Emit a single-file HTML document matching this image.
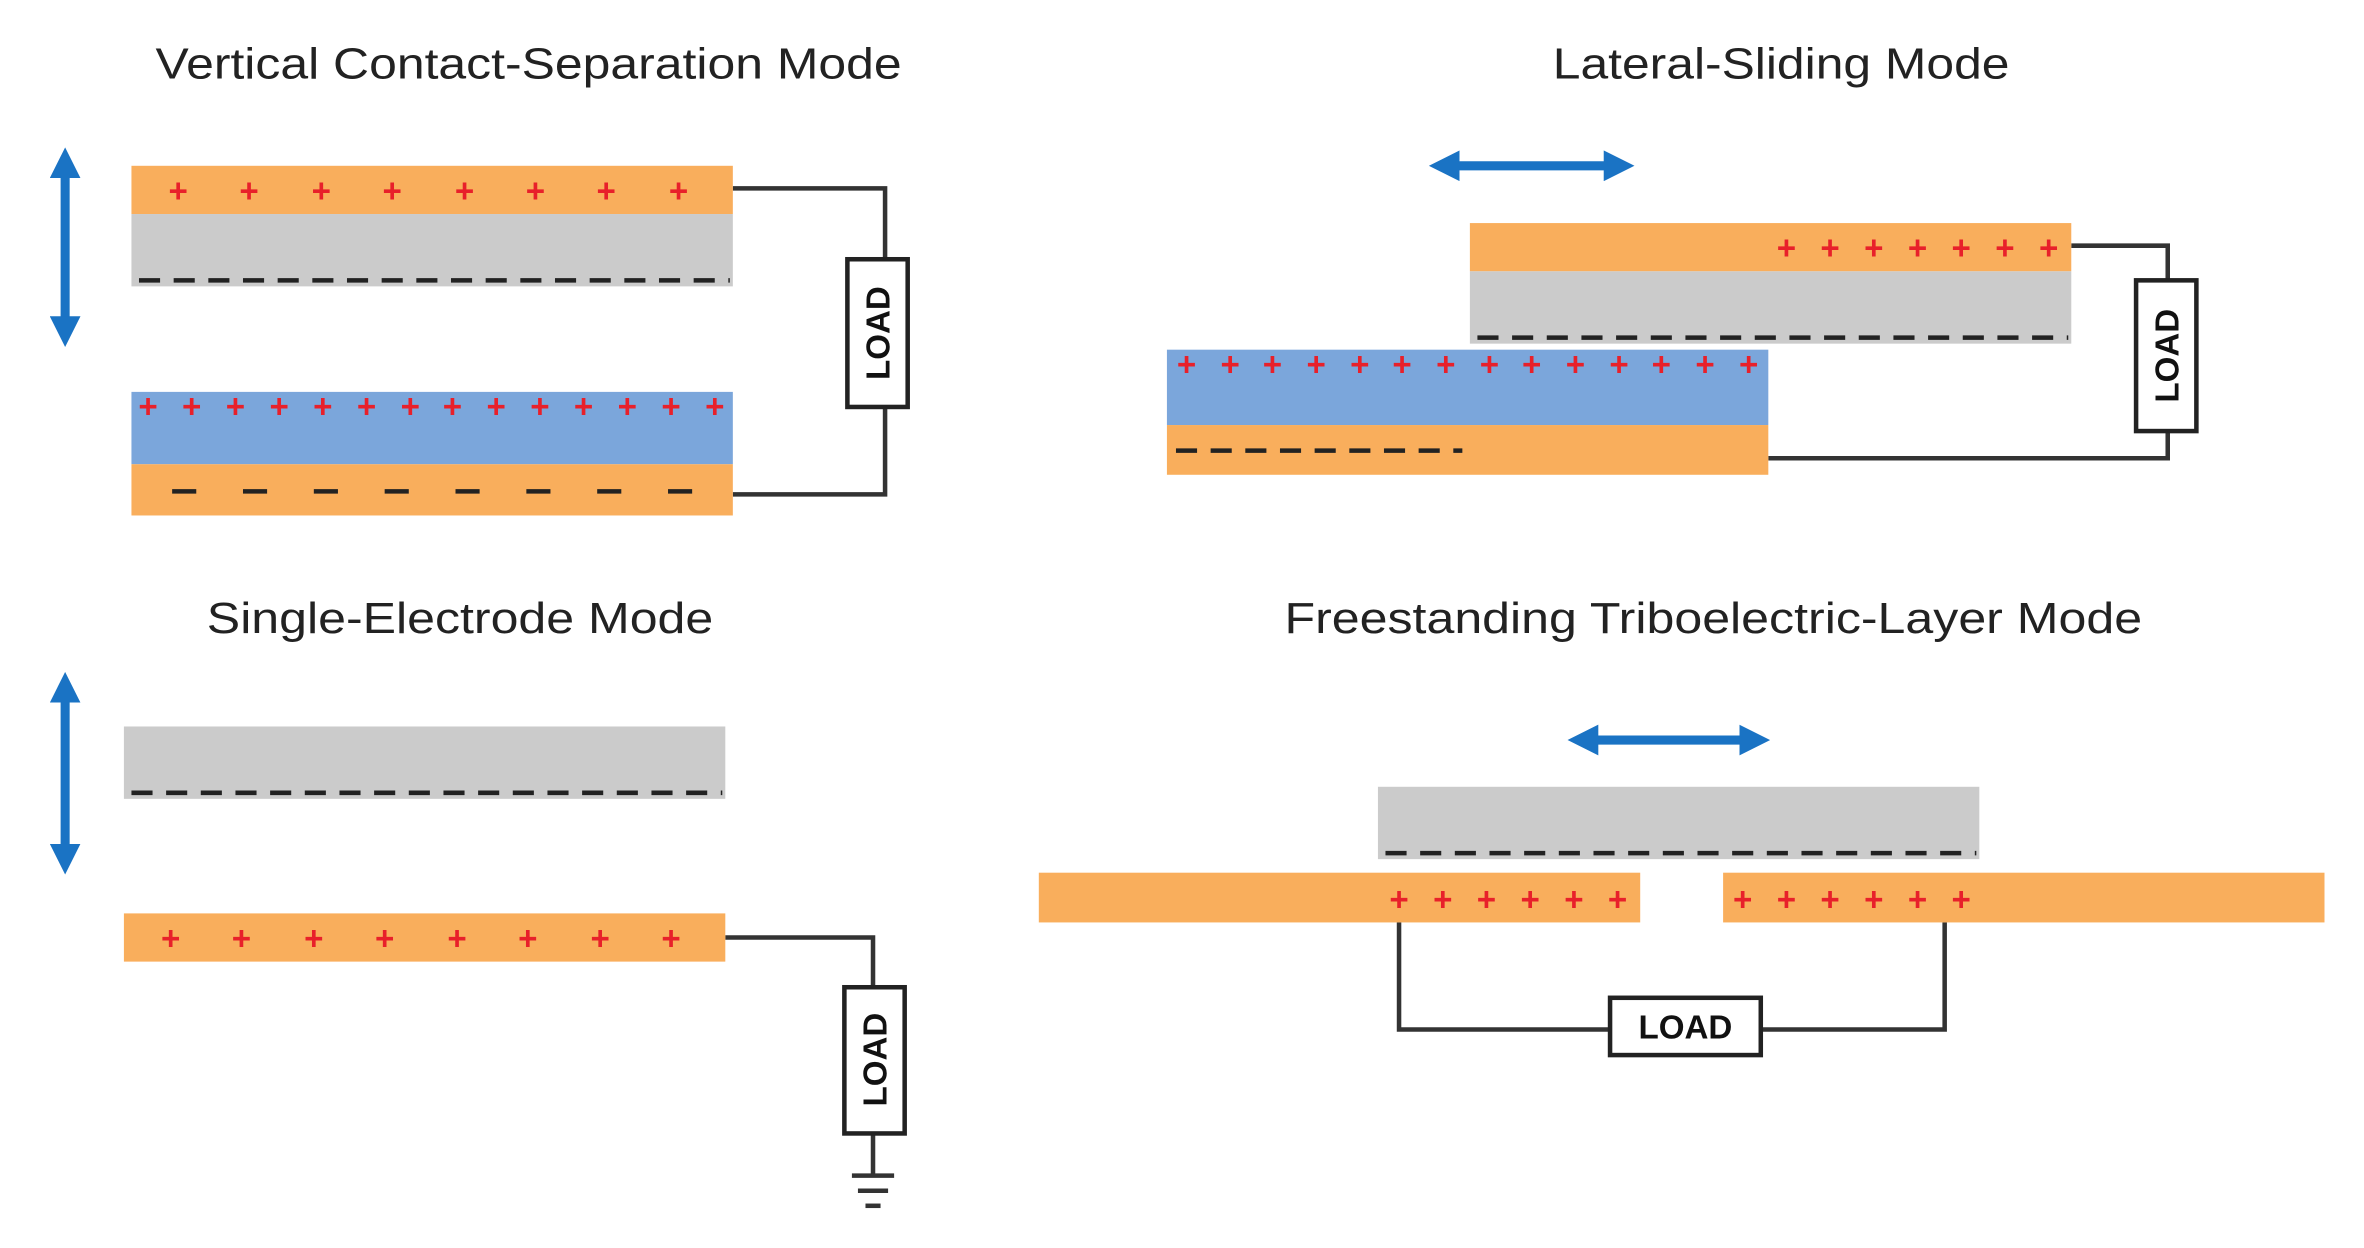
<!DOCTYPE html>
<html><head><meta charset="utf-8"><style>
html,body{margin:0;padding:0;background:#fff;}
svg{display:block;}
text{font-family:"Liberation Sans",sans-serif;}
</style></head><body>
<svg width="2364" height="1248" viewBox="0 0 1568 828" xmlns="http://www.w3.org/2000/svg">
<defs>
<marker id="ah" viewBox="0 0 10 10" refX="5" refY="5" markerWidth="3.4" markerHeight="3.4" orient="auto-start-reverse">
<path d="M0,0 L10,5 L0,10 z" fill="#1a73c4"/></marker>
</defs>
<g font-size="29" fill="#222">
<text x="103" y="52" textLength="495" lengthAdjust="spacingAndGlyphs">Vertical Contact-Separation Mode</text>
<text x="1030" y="52" textLength="303" lengthAdjust="spacingAndGlyphs">Lateral-Sliding Mode</text>
<text x="137" y="420" textLength="336" lengthAdjust="spacingAndGlyphs">Single-Electrode Mode</text>
<text x="852" y="420" textLength="569" lengthAdjust="spacingAndGlyphs">Freestanding Triboelectric-Layer Mode</text>
</g>
<g stroke="#1a73c4" stroke-width="6" marker-start="url(#ah)" marker-end="url(#ah)">
<line x1="43" y1="108" x2="43" y2="220"/>
<line x1="958" y1="110" x2="1074" y2="110"/>
<line x1="43" y1="456" x2="43" y2="570"/>
<line x1="1050" y1="491" x2="1164" y2="491"/>
</g>
<g stroke="#333" stroke-width="3" fill="none">
<polyline points="486,125 587,125 587,172"/>
<polyline points="587,270 587,328 486,328"/>
<polyline points="1374,163 1438,163 1438,186"/>
<polyline points="1438,286 1438,304 1173,304"/>
<polyline points="481,622 579,622 579,655"/>
<polyline points="579,752 579,780"/>
<line x1="565" y1="780" x2="593" y2="780"/>
<line x1="569" y1="790" x2="589" y2="790"/>
<line x1="574" y1="800" x2="584" y2="800"/>
<polyline points="928,612 928,683 1068,683"/>
<polyline points="1168,683 1290,683 1290,612"/>
</g>
<g>
<rect x="87" y="110" width="399" height="32" fill="#f9ae5c"/>
<rect x="87" y="142" width="399" height="48" fill="#cbcbcb"/>
<rect x="87" y="260" width="399" height="48" fill="#7ba6db"/>
<rect x="87" y="308" width="399" height="34" fill="#f9ae5c"/>
<rect x="975" y="148" width="399" height="32" fill="#f9ae5c"/>
<rect x="975" y="180" width="399" height="48" fill="#cbcbcb"/>
<rect x="774" y="232" width="399" height="50" fill="#7ba6db"/>
<rect x="774" y="282" width="399" height="33" fill="#f9ae5c"/>
<rect x="82" y="482" width="399" height="48" fill="#cbcbcb"/>
<rect x="82" y="606" width="399" height="32" fill="#f9ae5c"/>
<rect x="914" y="522" width="399" height="48" fill="#cbcbcb"/>
<rect x="689" y="579" width="399" height="33" fill="#f9ae5c"/>
<rect x="1143" y="579" width="399" height="33" fill="#f9ae5c"/>
</g>
<g stroke="#222" stroke-width="3" fill="none">
<line x1="92" y1="186" x2="484" y2="186" stroke-dasharray="14,9"/>
<line x1="980" y1="224" x2="1372" y2="224" stroke-dasharray="14,9"/>
<line x1="780" y1="299" x2="970" y2="299" stroke-dasharray="14,9"/>
<line x1="87" y1="526" x2="479" y2="526" stroke-dasharray="14,9"/>
<line x1="919" y1="566" x2="1311" y2="566" stroke-dasharray="14,9"/>
<line x1="114" y1="326" x2="460" y2="326" stroke-dasharray="16,31"/>
</g>
<g fill="#e8202a" font-size="22" font-weight="bold" text-anchor="middle">
<text y="134"><tspan x="118">+</tspan><tspan x="165">+</tspan><tspan x="213">+</tspan><tspan x="260">+</tspan><tspan x="308">+</tspan><tspan x="355">+</tspan><tspan x="402">+</tspan><tspan x="450">+</tspan></text>
<text y="277"><tspan x="98">+</tspan><tspan x="127">+</tspan><tspan x="156">+</tspan><tspan x="185">+</tspan><tspan x="214">+</tspan><tspan x="243">+</tspan><tspan x="272">+</tspan><tspan x="300">+</tspan><tspan x="329">+</tspan><tspan x="358">+</tspan><tspan x="387">+</tspan><tspan x="416">+</tspan><tspan x="445">+</tspan><tspan x="474">+</tspan></text>
<text y="172"><tspan x="1185">+</tspan><tspan x="1214">+</tspan><tspan x="1243">+</tspan><tspan x="1272">+</tspan><tspan x="1301">+</tspan><tspan x="1330">+</tspan><tspan x="1359">+</tspan></text>
<text y="249"><tspan x="787">+</tspan><tspan x="816">+</tspan><tspan x="844">+</tspan><tspan x="873">+</tspan><tspan x="902">+</tspan><tspan x="930">+</tspan><tspan x="959">+</tspan><tspan x="988">+</tspan><tspan x="1016">+</tspan><tspan x="1045">+</tspan><tspan x="1074">+</tspan><tspan x="1102">+</tspan><tspan x="1131">+</tspan><tspan x="1160">+</tspan></text>
<text y="630"><tspan x="113">+</tspan><tspan x="160">+</tspan><tspan x="208">+</tspan><tspan x="255">+</tspan><tspan x="303">+</tspan><tspan x="350">+</tspan><tspan x="398">+</tspan><tspan x="445">+</tspan></text>
<text y="604"><tspan x="928">+</tspan><tspan x="957">+</tspan><tspan x="986">+</tspan><tspan x="1015">+</tspan><tspan x="1044">+</tspan><tspan x="1073">+</tspan></text>
<text y="604"><tspan x="1156">+</tspan><tspan x="1185">+</tspan><tspan x="1214">+</tspan><tspan x="1243">+</tspan><tspan x="1272">+</tspan><tspan x="1301">+</tspan></text>
</g>
<g fill="#fff" stroke="#222" stroke-width="3">
<rect x="562" y="172" width="40" height="98"/>
<rect x="1417" y="186" width="40" height="100"/>
<rect x="560" y="655" width="40" height="97"/>
<rect x="1068" y="662" width="100" height="38"/>
</g>
<g font-size="22" font-weight="bold" fill="#111" text-anchor="middle">
<text transform="translate(590,221) rotate(-90)">LOAD</text>
<text transform="translate(1445,236) rotate(-90)">LOAD</text>
<text transform="translate(588,703) rotate(-90)">LOAD</text>
<text x="1118" y="689">LOAD</text>
</g>
</svg>
</body></html>
